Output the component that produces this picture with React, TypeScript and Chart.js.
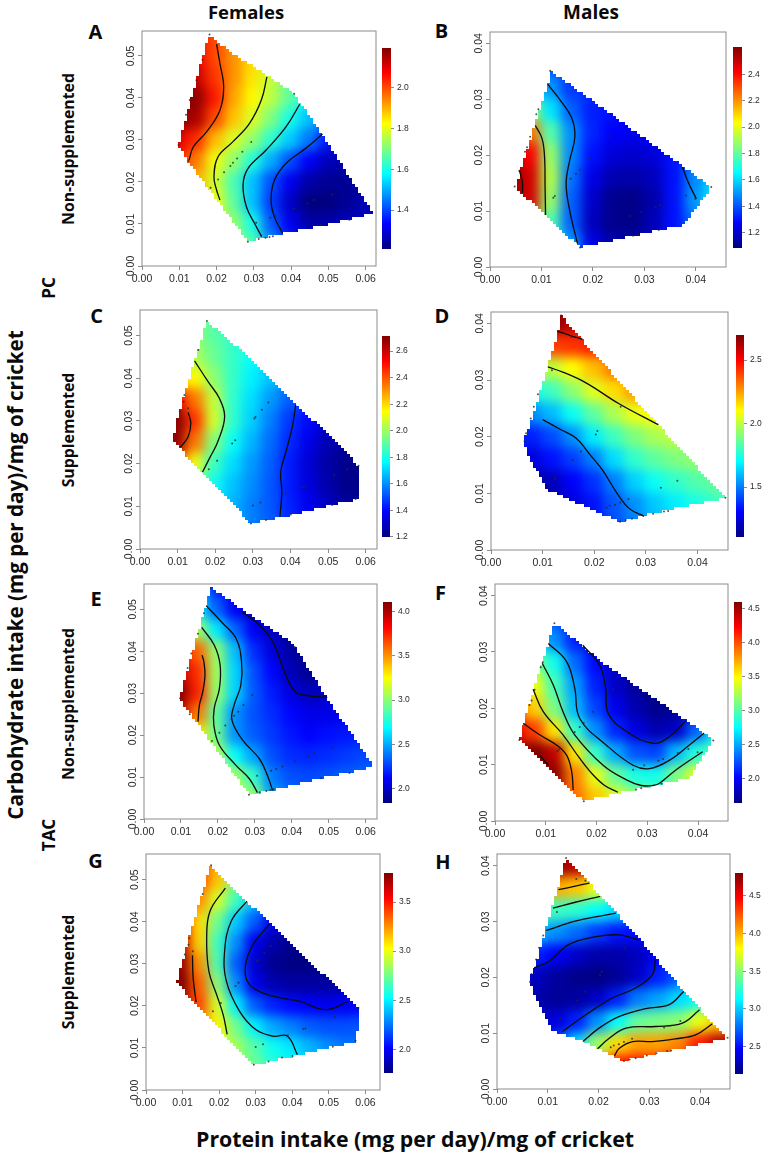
import React, { useEffect, useRef } from "react";
import { Chart, registerables } from "chart.js";

Chart.register(...registerables);

const _ = null;

// Axis ticks
const femaleTicksX = [0, 0.01, 0.02, 0.03, 0.04, 0.05, 0.06];
const femaleTicksY = [0, 0.01, 0.02, 0.03, 0.04, 0.05];
const maleTicksX = [0, 0.01, 0.02, 0.03, 0.04];
const maleTicksY = [0, 0.01, 0.02, 0.03, 0.04];

// Surface sampling positions
const femaleGridX = [0.005, 0.01, 0.015, 0.02, 0.025, 0.03, 0.035, 0.04, 0.045, 0.05, 0.055, 0.06, 0.065];
const femaleGridY = [0.055, 0.05, 0.045, 0.04, 0.035, 0.03, 0.025, 0.02, 0.015, 0.01, 0.005];
const maleGridX = [0.004, 0.008, 0.012, 0.016, 0.02, 0.024, 0.028, 0.032, 0.036, 0.04, 0.044, 0.048];
const maleGridY = [0.044, 0.04, 0.036, 0.032, 0.028, 0.024, 0.02, 0.016, 0.012, 0.008, 0.004];

const panelA_values = [
  [_, _, 2.06, 2.0, 1.95, _, _, _, _, _, _, _, _],
  [_, _, 2.08, 2.0, 1.93, 1.86, _, _, _, _, _, _, _],
  [_, 2.14, 2.12, 2.02, 1.93, 1.85, 1.77, 1.68, _, _, _, _, _],
  [_, 2.19, 2.18, 2.05, 1.91, 1.83, 1.76, 1.67, 1.58, _, _, _, _],
  [_, 2.19, 2.15, 2.0, 1.88, 1.79, 1.7, 1.6, 1.52, 1.44, _, _, _],
  [2.12, 2.1, 2.03, 1.89, 1.79, 1.72, 1.62, 1.53, 1.45, 1.36, 1.32, _, _],
  [_, 2.05, 1.95, 1.81, 1.72, 1.61, 1.5, 1.41, 1.33, 1.27, 1.25, 1.25, _],
  [_, 1.98, 1.9, 1.78, 1.65, 1.52, 1.41, 1.32, 1.25, 1.23, 1.23, 1.24, _],
  [_, _, 1.92, 1.81, 1.67, 1.52, 1.39, 1.28, 1.21, 1.21, 1.23, 1.26, 1.27],
  [_, _, _, 1.85, 1.72, 1.6, 1.42, 1.32, 1.25, 1.25, 1.27, 1.28, 1.29],
  [_, _, _, _, 1.75, 1.66, 1.48, 1.38, 1.33, 1.32, _, _, _],
];
const panelC_values = [
  [_, _, 1.95, 1.9, 1.85, _, _, _, _, _, _, _, _],
  [_, _, 1.98, 1.9, 1.85, 1.8, _, _, _, _, _, _, _],
  [_, 2.0, 2.02, 1.93, 1.85, 1.78, 1.72, _, _, _, _, _, _],
  [_, 2.2, 2.15, 1.98, 1.85, 1.75, 1.68, 1.6, 1.52, _, _, _, _],
  [_, 2.55, 2.35, 2.06, 1.84, 1.72, 1.62, 1.53, 1.45, 1.38, _, _, _],
  [2.71, 2.71, 2.45, 2.08, 1.84, 1.7, 1.58, 1.47, 1.4, 1.33, 1.3, _, _],
  [2.71, 2.68, 2.35, 1.97, 1.78, 1.66, 1.55, 1.45, 1.36, 1.28, 1.25, 1.22, _],
  [_, 2.45, 2.12, 1.86, 1.72, 1.62, 1.53, 1.43, 1.33, 1.26, 1.22, 1.21, _],
  [_, _, 1.95, 1.79, 1.68, 1.6, 1.52, 1.43, 1.34, 1.27, 1.22, 1.21, _],
  [_, _, _, 1.75, 1.66, 1.58, 1.52, 1.44, 1.37, 1.3, 1.25, 1.23, _],
  [_, _, _, _, 1.66, 1.58, 1.53, 1.46, 1.4, 1.34, _, _, _],
];
const panelE_values = [
  [_, _, 2.6, 2.2, 2.1, 2.0, _, _, _, _, _, _, _],
  [_, _, 2.65, 2.35, 2.1, 1.98, 1.92, _, _, _, _, _, _],
  [_, 3.1, 3.05, 2.65, 2.35, 2.1, 1.98, 1.88, _, _, _, _, _],
  [_, 3.8, 3.6, 3.02, 2.55, 2.22, 2.05, 1.92, 1.85, _, _, _, _],
  [_, 3.95, 3.72, 3.05, 2.6, 2.3, 2.13, 1.97, 1.88, 1.86, _, _, _],
  [4.1, 4.1, 3.75, 3.03, 2.6, 2.32, 2.18, 2.05, 1.98, 1.98, 1.98, _, _],
  [_, 3.95, 3.55, 2.9, 2.45, 2.3, 2.22, 2.13, 2.07, 2.07, 2.09, 2.1, _],
  [_, 3.6, 3.3, 2.93, 2.45, 2.33, 2.25, 2.17, 2.12, 2.15, 2.17, 2.18, _],
  [_, _, 3.3, 3.1, 2.7, 2.48, 2.3, 2.22, 2.2, 2.22, 2.25, 2.28, 2.3],
  [_, _, _, 3.2, 3.05, 2.8, 2.4, 2.3, 2.28, 2.3, 2.33, 2.35, 2.35],
  [_, _, _, _, 3.2, 3.02, 2.5, 2.38, 2.35, 2.37, _, _, _],
];
const panelG_values = [
  [_, _, 3.4, 3.25, 3.0, _, _, _, _, _, _, _, _],
  [_, _, 3.4, 3.15, 2.8, 2.6, _, _, _, _, _, _, _],
  [_, 3.4, 3.25, 2.95, 2.65, 2.4, 2.2, _, _, _, _, _, _],
  [_, 3.55, 3.1, 2.75, 2.42, 2.2, 1.98, 1.9, _, _, _, _, _],
  [_, 3.65, 3.12, 2.65, 2.3, 1.98, 1.85, 1.79, 1.77, _, _, _, _],
  [3.8, 3.75, 3.25, 2.68, 2.2, 1.92, 1.8, 1.77, 1.77, 1.78, 1.8, _, _],
  [3.8, 3.8, 3.35, 2.8, 2.3, 1.98, 1.86, 1.83, 1.83, 1.83, 1.85, 1.88, _],
  [_, 3.65, 3.4, 2.95, 2.5, 2.2, 2.08, 2.03, 2.0, 1.98, 2.0, 2.02, _],
  [_, _, 3.25, 3.05, 2.75, 2.5, 2.35, 2.27, 2.2, 2.17, 2.17, 2.18, _],
  [_, _, _, 3.0, 2.85, 2.7, 2.55, 2.48, 2.38, 2.3, 2.25, 2.25, _],
  [_, _, _, _, 2.85, 2.75, 2.62, 2.55, 2.45, 2.38, _, _, _],
];
const panelB_values = [
  [_, _, _, _, _, _, _, _, _, _, _, _],
  [_, _, _, _, _, _, _, _, _, _, _, _],
  [_, _, 1.4, 1.35, _, _, _, _, _, _, _, _],
  [_, 1.6, 1.5, 1.36, 1.33, 1.3, _, _, _, _, _, _],
  [_, 1.9, 1.62, 1.42, 1.32, 1.3, 1.28, _, _, _, _, _],
  [_, 2.25, 1.78, 1.49, 1.33, 1.27, 1.25, 1.27, _, _, _, _],
  [2.55, 2.42, 1.88, 1.48, 1.3, 1.22, 1.2, 1.22, 1.3, 1.4, _, _],
  [2.62, 2.48, 1.92, 1.45, 1.24, 1.16, 1.15, 1.18, 1.3, 1.48, 1.6, _],
  [2.62, 2.48, 1.88, 1.42, 1.2, 1.11, 1.1, 1.15, 1.3, 1.5, 1.65, _],
  [_, 2.25, 1.78, 1.42, 1.18, 1.11, 1.1, 1.17, 1.3, 1.45, 1.6, _],
  [_, _, 1.7, 1.5, 1.24, 1.15, 1.15, 1.2, 1.3, 1.4, _, _],
];
const panelD_values = [
  [_, _, 2.7, 2.7, _, _, _, _, _, _, _, _],
  [_, _, 2.68, 2.6, _, _, _, _, _, _, _, _],
  [_, _, 2.4, 2.42, 2.45, _, _, _, _, _, _, _],
  [_, 2.0, 2.0, 2.1, 2.2, 2.3, _, _, _, _, _, _],
  [_, 1.72, 1.8, 1.92, 2.05, 2.15, 2.25, _, _, _, _, _],
  [_, 1.52, 1.6, 1.72, 1.85, 1.97, 2.07, 2.1, _, _, _, _],
  [1.35, 1.35, 1.42, 1.53, 1.68, 1.8, 1.9, 1.97, 2.0, _, _, _],
  [1.25, 1.25, 1.33, 1.4, 1.5, 1.65, 1.78, 1.85, 1.9, 1.93, _, _],
  [_, 1.15, 1.2, 1.3, 1.38, 1.5, 1.63, 1.72, 1.78, 1.83, 1.86, _],
  [_, 1.12, 1.16, 1.25, 1.33, 1.44, 1.53, 1.62, 1.68, 1.74, 1.8, 1.82],
  [_, _, 1.16, 1.25, 1.33, 1.42, 1.5, 1.58, 1.64, _, _, _],
];
const panelF_values = [
  [_, _, _, _, _, _, _, _, _, _, _, _],
  [_, _, _, _, _, _, _, _, _, _, _, _],
  [_, _, 2.25, 2.05, _, _, _, _, _, _, _, _],
  [_, 2.7, 2.42, 2.1, 1.9, 1.8, _, _, _, _, _, _],
  [_, 3.15, 2.8, 2.32, 2.03, 1.85, 1.72, _, _, _, _, _],
  [_, 3.45, 2.95, 2.47, 2.1, 1.85, 1.72, 1.65, _, _, _, _],
  [4.0, 3.62, 3.1, 2.55, 2.2, 1.95, 1.78, 1.68, 1.7, 1.8, _, _],
  [4.3, 4.05, 3.55, 2.9, 2.42, 2.12, 1.92, 1.78, 1.85, 2.3, 2.7, _],
  [4.5, 4.59, 4.4, 3.55, 2.9, 2.5, 2.25, 2.2, 2.55, 2.85, 3.0, _],
  [_, 4.6, 4.55, 3.85, 3.42, 3.05, 2.82, 2.8, 3.1, 3.4, 3.5, _],
  [_, _, 4.3, 3.9, 3.65, 3.4, 3.2, 3.05, 3.2, 3.4, _, _],
];
const panelH_values = [
  [_, _, 4.8, 4.8, _, _, _, _, _, _, _, _],
  [_, _, 4.75, 4.65, _, _, _, _, _, _, _, _],
  [_, _, 4.02, 3.95, 3.75, _, _, _, _, _, _, _],
  [_, 3.3, 3.3, 3.25, 3.15, 3.05, _, _, _, _, _, _],
  [_, 2.95, 2.85, 2.75, 2.62, 2.52, 2.5, _, _, _, _, _],
  [2.5, 2.55, 2.45, 2.33, 2.25, 2.25, 2.3, 2.45, 2.6, _, _, _],
  [2.4, 2.3, 2.22, 2.17, 2.15, 2.2, 2.32, 2.55, 2.7, 2.85, _, _],
  [2.32, 2.25, 2.2, 2.22, 2.32, 2.55, 2.8, 2.9, 3.05, 3.15, 3.3, _],
  [_, 2.3, 2.38, 2.55, 2.85, 3.15, 3.4, 3.45, 3.5, 3.75, 3.95, _],
  [_, _, 2.65, 3.05, 3.55, 3.9, 4.05, 4.05, 4.12, 4.4, 4.65, 4.75],
  [_, _, _, 3.5, 4.05, 4.45, 4.45, 4.45, 4.5, 4.6, 4.7, _],
];

// Outlines of the fitted regions
const panelA_hullX = [0.0179, 0.0262, 0.0315, 0.0408, 0.0484, 0.0621, 0.0475, 0.0315, 0.0284, 0.0124, 0.0098];
const panelA_hullY = [0.0549, 0.0494, 0.0466, 0.041, 0.0311, 0.0125, 0.0094, 0.0066, 0.0058, 0.0248, 0.0288];
const panelB_hullX = [0.0117, 0.0233, 0.0372, 0.043, 0.0401, 0.0375, 0.0175, 0.0052, 0.0059, 0.0114];
const panelB_hullY = [0.0351, 0.0275, 0.0182, 0.0143, 0.0104, 0.0075, 0.0035, 0.014, 0.0173, 0.0331];
const panelC_hullX = [0.0178, 0.0282, 0.0414, 0.0511, 0.0581, 0.0579, 0.0405, 0.0295, 0.0088, 0.0093, 0.0115, 0.0154];
const panelC_hullY = [0.0534, 0.0455, 0.0341, 0.0259, 0.0195, 0.0117, 0.008, 0.006, 0.0252, 0.0283, 0.0353, 0.0466];
const panelD_hullX = [0.0136, 0.0177, 0.0325, 0.0454, 0.0313, 0.0274, 0.0248, 0.011, 0.0075, 0.0063, 0.0081, 0.011, 0.0129];
const panelD_hullY = [0.0414, 0.037, 0.022, 0.0092, 0.0065, 0.0055, 0.005, 0.0106, 0.0162, 0.0194, 0.0235, 0.0323, 0.0382];
const panelE_hullX = [0.0181, 0.0276, 0.0402, 0.0491, 0.0622, 0.0473, 0.0348, 0.0285, 0.0096, 0.0168];
const panelE_hullY = [0.0552, 0.0494, 0.0419, 0.0295, 0.0124, 0.0096, 0.0068, 0.0058, 0.0287, 0.051];
const panelF_hullX = [0.0117, 0.0219, 0.0376, 0.043, 0.0383, 0.0173, 0.0048, 0.0069, 0.0105];
const panelF_hullY = [0.0351, 0.0277, 0.0179, 0.0144, 0.0076, 0.0036, 0.0144, 0.0212, 0.0315];
const panelG_hullX = [0.0177, 0.0224, 0.0338, 0.0491, 0.0582, 0.0577, 0.0401, 0.0292, 0.0084, 0.0116];
const panelG_hullY = [0.0536, 0.0492, 0.0397, 0.027, 0.0195, 0.0116, 0.008, 0.0059, 0.0254, 0.0357];
const panelH_hullX = [0.0136, 0.0182, 0.028, 0.0368, 0.0453, 0.0247, 0.0169, 0.011, 0.0074, 0.0063, 0.0074, 0.01, 0.012];
const panelH_hullY = [0.0414, 0.0369, 0.027, 0.0175, 0.0091, 0.005, 0.0085, 0.0103, 0.0169, 0.0193, 0.0217, 0.03, 0.036];

// Contour lines
const panelA_contourX = [
  [0.02, 0.0209, 0.0219, 0.0209, 0.0173, 0.0138, 0.0126],
  [0.0335, 0.032, 0.0288, 0.0244, 0.0204, 0.0193, 0.02, 0.0209],
  [0.0423, 0.0386, 0.0333, 0.0284, 0.0271, 0.028, 0.0302, 0.0321],
  [0.0484, 0.0439, 0.0386, 0.0355, 0.0346, 0.0355, 0.0377],
];
const panelA_contourY = [
  [0.0528, 0.0482, 0.0426, 0.0371, 0.0319, 0.0284, 0.0252],
  [0.045, 0.0395, 0.0339, 0.0296, 0.026, 0.0212, 0.0181, 0.0157],
  [0.0385, 0.0331, 0.0276, 0.0232, 0.0193, 0.0141, 0.0101, 0.007],
  [0.0314, 0.028, 0.0244, 0.0204, 0.0157, 0.0117, 0.0078],
];
const panelB_contourX = [
  [0.0057, 0.0063, 0.0063],
  [0.0088, 0.0101, 0.0106, 0.0107, 0.0108],
  [0.0112, 0.0136, 0.0159, 0.0165, 0.0155, 0.0148, 0.0155, 0.017],
  [0.0374, 0.0385, 0.0401],
];
const panelB_contourY = [
  [0.0173, 0.0152, 0.0133],
  [0.0253, 0.023, 0.0197, 0.0143, 0.0093],
  [0.0327, 0.0299, 0.0266, 0.0233, 0.0191, 0.0149, 0.0101, 0.0042],
  [0.0179, 0.0152, 0.0122],
];
const panelC_contourX = [
  [0.0128, 0.0135, 0.0128, 0.0107],
  [0.0145, 0.0181, 0.0211, 0.0225, 0.0207, 0.0185, 0.0166],
  [0.0414, 0.0405, 0.0388, 0.0374, 0.0377, 0.0372],
];
const panelC_contourY = [
  [0.032, 0.0295, 0.0263, 0.0238],
  [0.0441, 0.0392, 0.0353, 0.031, 0.0252, 0.0213, 0.018],
  [0.0338, 0.0287, 0.0228, 0.0181, 0.0134, 0.0076],
];
const panelD_contourX = [
  [0.0129, 0.0155, 0.0177],
  [0.011, 0.0139, 0.0184, 0.0248, 0.0324],
  [0.01, 0.0132, 0.0165, 0.019, 0.0216, 0.0242, 0.0268, 0.0296],
];
const panelD_contourY = [
  [0.0386, 0.0378, 0.0372],
  [0.0323, 0.0314, 0.0295, 0.0258, 0.0221],
  [0.023, 0.0214, 0.0197, 0.017, 0.0141, 0.0103, 0.0073, 0.006],
];
const panelE_contourX = [
  [0.0157, 0.0162, 0.0165, 0.0159, 0.015, 0.0146],
  [0.0156, 0.019, 0.0206, 0.0204, 0.019, 0.0189, 0.0204, 0.0249, 0.0285, 0.0307],
  [0.0168, 0.0213, 0.0249, 0.0264, 0.0262, 0.0244, 0.0238, 0.0267, 0.0312, 0.0334, 0.0348],
  [0.0267, 0.0312, 0.0348, 0.0384, 0.041, 0.0446, 0.0496],
];
const panelE_contourY = [
  [0.0391, 0.0375, 0.0343, 0.0303, 0.0272, 0.0232],
  [0.0457, 0.0415, 0.0367, 0.0311, 0.0264, 0.0224, 0.0176, 0.0128, 0.0096, 0.0063],
  [0.0509, 0.0467, 0.0431, 0.0375, 0.0319, 0.0272, 0.0236, 0.0188, 0.0144, 0.0104, 0.0068],
  [0.0493, 0.0463, 0.0423, 0.0343, 0.0303, 0.0294, 0.029],
];
const panelF_contourX = [
  [0.0088, 0.0105],
  [0.0056, 0.0088, 0.0121, 0.0141, 0.0151, 0.0154],
  [0.0075, 0.0095, 0.0134, 0.0167, 0.0193, 0.0216, 0.0242],
  [0.0093, 0.0115, 0.0134, 0.0157, 0.0213, 0.0259, 0.0288, 0.0311, 0.0324, 0.0357, 0.0409],
  [0.0105, 0.0141, 0.0157, 0.0167, 0.0219, 0.0272, 0.0304, 0.0344, 0.0383, 0.0412],
  [0.0173, 0.0206, 0.0218, 0.0223, 0.0259, 0.0311, 0.0344, 0.0376],
];
const panelF_contourY = [
  [0.0117, 0.0099],
  [0.0173, 0.0153, 0.0135, 0.0117, 0.0088, 0.0055],
  [0.0234, 0.0194, 0.0153, 0.0111, 0.0082, 0.0063, 0.0051],
  [0.028, 0.0241, 0.0194, 0.0153, 0.0099, 0.0073, 0.0063, 0.0063, 0.0067, 0.0091, 0.0123],
  [0.0315, 0.0283, 0.0236, 0.0182, 0.0135, 0.0099, 0.0093, 0.0108, 0.0135, 0.0156],
  [0.0312, 0.0277, 0.0236, 0.0191, 0.0159, 0.0138, 0.015, 0.0178],
];
const panelG_contourX = [
  [0.0127, 0.0129, 0.0137],
  [0.0217, 0.0175, 0.0166, 0.0172, 0.0193, 0.0211, 0.0222],
  [0.0276, 0.0233, 0.0215, 0.022, 0.0256, 0.0301, 0.0347, 0.0387, 0.0414],
  [0.0338, 0.0288, 0.0271, 0.0288, 0.0347, 0.0419, 0.0491, 0.0555],
];
const panelG_contourY = [
  [0.032, 0.0266, 0.0209],
  [0.048, 0.0425, 0.0361, 0.0282, 0.0227, 0.0179, 0.0132],
  [0.0449, 0.0401, 0.033, 0.0258, 0.0187, 0.0143, 0.0128, 0.0128, 0.0084],
  [0.0395, 0.0338, 0.0282, 0.0246, 0.0223, 0.0211, 0.0191, 0.0211],
];
const panelH_contourX = [
  [0.0121, 0.0152, 0.0182],
  [0.011, 0.0156, 0.0203],
  [0.0097, 0.0156, 0.0234],
  [0.0073, 0.0103, 0.0142, 0.0195, 0.0241, 0.028],
  [0.0312, 0.0306, 0.0273, 0.0227, 0.0175, 0.0129],
  [0.0368, 0.0339, 0.0293, 0.0241, 0.0201, 0.0169],
  [0.0399, 0.0365, 0.0312, 0.0254, 0.0221, 0.0198],
  [0.0424, 0.0391, 0.0352, 0.0306, 0.0267, 0.0241, 0.0231],
];
const panelH_contourY = [
  [0.0357, 0.0363, 0.0369],
  [0.0324, 0.0335, 0.0345],
  [0.0284, 0.0301, 0.0315],
  [0.0217, 0.0229, 0.0259, 0.0273, 0.0276, 0.0267],
  [0.0232, 0.0205, 0.0181, 0.0163, 0.0133, 0.0103],
  [0.0175, 0.0151, 0.0144, 0.013, 0.0109, 0.0085],
  [0.0142, 0.0118, 0.0112, 0.0109, 0.0091, 0.0072],
  [0.0117, 0.0097, 0.009, 0.0085, 0.0085, 0.0073, 0.0059],
];

// Observed diets (tiny dots)
const femaleControlDotsX = [0.0181, 0.0162, 0.0146, 0.0128, 0.0118, 0.0098, 0.0124, 0.0184, 0.0204, 0.022, 0.0237, 0.0244, 0.0255, 0.0269, 0.0293, 0.0408, 0.0461, 0.0444, 0.0408, 0.0375, 0.0358, 0.0344, 0.0306, 0.0284, 0.0313, 0.0331, 0.0342, 0.0351, 0.0479, 0.0556, 0.051];
const femaleControlDotsY = [0.0551, 0.0491, 0.0442, 0.0395, 0.036, 0.0288, 0.025, 0.0186, 0.0206, 0.0223, 0.0238, 0.0246, 0.0256, 0.0272, 0.0295, 0.041, 0.0157, 0.0149, 0.0137, 0.0125, 0.0119, 0.0115, 0.0103, 0.0058, 0.0064, 0.0067, 0.0069, 0.0071, 0.0097, 0.011, 0.017];
const femaleSuppDotsX = [0.0178, 0.0155, 0.0118, 0.0116, 0.0106, 0.0128, 0.0304, 0.0307, 0.0324, 0.0341, 0.0253, 0.0245, 0.0205, 0.0183, 0.0388, 0.0436, 0.043, 0.0516, 0.0551, 0.0581, 0.0573, 0.0511, 0.0401, 0.0372, 0.0335, 0.0295, 0.032, 0.03];
const femaleSuppDotsY = [0.0534, 0.0466, 0.0361, 0.0345, 0.0322, 0.033, 0.0306, 0.0309, 0.0326, 0.0343, 0.0255, 0.0247, 0.0207, 0.0187, 0.013, 0.0146, 0.0145, 0.0173, 0.0187, 0.0195, 0.0117, 0.0103, 0.0081, 0.0077, 0.0068, 0.006, 0.0109, 0.0102];
const maleControlDotsX = [0.0117, 0.0094, 0.009, 0.0078, 0.0072, 0.0068, 0.0057, 0.0048, 0.0123, 0.0126, 0.0157, 0.0167, 0.0175, 0.0193, 0.0233, 0.043, 0.0399, 0.0381, 0.036, 0.0331, 0.0322, 0.0294, 0.0272, 0.0278, 0.0288, 0.0328, 0.0175];
const maleControlDotsY = [0.0351, 0.0282, 0.0273, 0.0233, 0.0214, 0.0206, 0.0172, 0.0144, 0.0124, 0.0127, 0.0158, 0.0167, 0.0174, 0.0194, 0.0234, 0.0143, 0.0122, 0.0128, 0.0121, 0.011, 0.0107, 0.0099, 0.0091, 0.0056, 0.0058, 0.0066, 0.0035];
const maleSuppDotsX = [0.0136, 0.0156, 0.0174, 0.0118, 0.0091, 0.0083, 0.0077, 0.0068, 0.0065, 0.0251, 0.0206, 0.0203, 0.0174, 0.0158, 0.0124, 0.0266, 0.025, 0.024, 0.023, 0.0224, 0.025, 0.0261, 0.0273, 0.0295, 0.0314, 0.0335, 0.0343, 0.0329, 0.0361, 0.0454];
const maleSuppDotsY = [0.0414, 0.0376, 0.0373, 0.0317, 0.0275, 0.0253, 0.0232, 0.0206, 0.0192, 0.0253, 0.021, 0.0204, 0.0174, 0.0159, 0.0126, 0.009, 0.0084, 0.008, 0.0078, 0.0075, 0.005, 0.0053, 0.0055, 0.006, 0.0064, 0.0068, 0.0069, 0.011, 0.0122, 0.0092];

// Colour bars: range and ticks
const rangeA = [1.21, 2.194];
const rangeB = [1.086, 2.605];
const rangeC = [1.2, 2.713];
const rangeD = [1.108, 2.696];
const rangeE = [1.838, 4.107];
const rangeF = [1.64, 4.59];
const rangeG = [1.76, 3.795];
const rangeH = [2.136, 4.803];
const barTicksA = [1.4, 1.6, 1.8, 2.0];
const barTicksB = [1.2, 1.4, 1.6, 1.8, 2.0, 2.2, 2.4];
const barTicksC = [1.2, 1.4, 1.6, 1.8, 2.0, 2.2, 2.4, 2.6];
const barTicksD = [1.5, 2.0, 2.5];
const barTicksE = [2.0, 2.5, 3.0, 3.5, 4.0];
const barTicksF = [2.0, 2.5, 3.0, 3.5, 4.0, 4.5];
const barTicksG = [2.0, 2.5, 3.0, 3.5];
const barTicksH = [2.5, 3.0, 3.5, 4.0, 4.5];

const JET = ["#00007F", "#0000FF", "#007FFF", "#00FFFF", "#7FFF7F", "#FFFF00", "#FF7F00", "#FF0000", "#7F0000"];
const hex = (s: string) => [1, 3, 5].map((i) => parseInt(s.slice(i, i + 2), 16));
function jetColor(t: number) {
  const c = Math.max(0, Math.min(1, t)) * (JET.length - 1);
  const i = Math.min(JET.length - 2, Math.floor(c));
  const a = hex(JET[i]);
  const b = hex(JET[i + 1]);
  const f = c - i;
  return `rgb(${a.map((v, k) => Math.round(v + (b[k] - v) * f)).join(",")})`;
}

type Panel = {
  frame: number[]; // left, top, right, bottom px
  bar: number[];
  xMax: number; yMax: number;
  female: boolean;
  values: (number | null)[][];
  hullX: number[]; hullY: number[];
  contourX: number[][]; contourY: number[][];
  dotsX: number[]; dotsY: number[];
  range: number[]; barTicks: number[];
};

const panels: Panel[] = [
  { frame: [142, 31, 377, 266], bar: [382, 46, 391, 251], xMax: 0.06275, yMax: 0.05594, female: true, values: panelA_values, hullX: panelA_hullX, hullY: panelA_hullY, contourX: panelA_contourX, contourY: panelA_contourY, dotsX: femaleControlDotsX, dotsY: femaleControlDotsY, range: rangeA, barTicks: barTicksA },
  { frame: [490, 32, 727, 267], bar: [733, 45, 742, 250], xMax: 0.04587, yMax: 0.04203, female: false, values: panelB_values, hullX: panelB_hullX, hullY: panelB_hullY, contourX: panelB_contourX, contourY: panelB_contourY, dotsX: maleControlDotsX, dotsY: maleControlDotsY, range: rangeB, barTicks: barTicksB },
  { frame: [140, 310, 378, 549], bar: [382, 334, 390, 539], xMax: 0.063, yMax: 0.056, female: true, values: panelC_values, hullX: panelC_hullX, hullY: panelC_hullY, contourX: panelC_contourX, contourY: panelC_contourY, dotsX: femaleSuppDotsX, dotsY: femaleSuppDotsY, range: rangeC, barTicks: barTicksC },
  { frame: [491, 312, 729, 550], bar: [736, 333, 744, 539], xMax: 0.0459, yMax: 0.042, female: false, values: panelD_values, hullX: panelD_hullX, hullY: panelD_hullY, contourX: panelD_contourX, contourY: panelD_contourY, dotsX: maleSuppDotsX, dotsY: maleSuppDotsY, range: rangeD, barTicks: barTicksD },
  { frame: [144, 584, 378, 819], bar: [383, 600, 392, 805], xMax: 0.06305, yMax: 0.05605, female: true, values: panelE_values, hullX: panelE_hullX, hullY: panelE_hullY, contourX: panelE_contourX, contourY: panelE_contourY, dotsX: femaleControlDotsX, dotsY: femaleControlDotsY, range: rangeE, barTicks: barTicksE },
  { frame: [495, 584, 729, 821], bar: [734, 600, 742, 805], xMax: 0.0459, yMax: 0.04207, female: false, values: panelF_values, hullX: panelF_hullX, hullY: panelF_hullY, contourX: panelF_contourX, contourY: panelF_contourY, dotsX: maleControlDotsX, dotsY: maleControlDotsY, range: rangeF, barTicks: barTicksF },
  { frame: [146, 854, 381, 1090], bar: [384, 871, 393, 1075], xMax: 0.064, yMax: 0.0561, female: true, values: panelG_values, hullX: panelG_hullX, hullY: panelG_hullY, contourX: panelG_contourX, contourY: panelG_contourY, dotsX: femaleSuppDotsX, dotsY: femaleSuppDotsY, range: rangeG, barTicks: barTicksG },
  { frame: [497, 854, 731, 1089], bar: [735, 871, 743, 1076], xMax: 0.04588, yMax: 0.0421, female: false, values: panelH_values, hullX: panelH_hullX, hullY: panelH_hullY, contourX: panelH_contourX, contourY: panelH_contourY, dotsX: maleSuppDotsX, dotsY: maleSuppDotsY, range: rangeH, barTicks: barTicksH },
];

const TICK_FONT = { family: "'Liberation Sans', Arial, sans-serif", size: 10.5 };
const LEFT = 30, BELOW = 27, TOPGAP = 5, RIGHTGAP = 3;
const GRAY = "#8c8c8c";

function surfacePlugin(p: Panel) {
  return {
    id: "surface",
    afterDatasetDraw(chart: any, args: any) {
      if (args.index !== 0) return;
      const { ctx, canvas, chartArea: a, scales } = chart;
      const off = document.createElement("canvas");
      off.width = canvas.width;
      off.height = canvas.height;
      off.getContext("2d")!.drawImage(canvas, a.left, a.top, a.width, a.height, a.left, a.top, a.width, a.height);
      const pts = p.hullX.map((x, i) => [scales.x.getPixelForValue(x), scales.y.getPixelForValue(p.hullY[i])]);
      ctx.save();
      ctx.clearRect(a.left, a.top, a.width, a.height);
      ctx.beginPath();
      const step = 3;
      for (let yp = Math.floor(a.top); yp < a.bottom; yp += step) {
        const mid = yp + step / 2;
        let lo = Infinity, hi = -Infinity;
        pts.forEach((q, i) => {
          const r = pts[(i + 1) % pts.length];
          if ((q[1] <= mid && r[1] > mid) || (r[1] <= mid && q[1] > mid)) {
            const xp = q[0] + ((mid - q[1]) / (r[1] - q[1])) * (r[0] - q[0]);
            lo = Math.min(lo, xp);
            hi = Math.max(hi, xp);
          }
        });
        if (hi > lo) {
          const x0 = Math.round(lo / step) * step;
          const x1 = Math.round(hi / step) * step;
          ctx.rect(x0, yp, x1 - x0, step);
        }
      }
      ctx.clip();
      ctx.drawImage(off, 0, 0);
      ctx.filter = "blur(6px)";
      ctx.drawImage(off, 0, 0);
      ctx.restore();
    },
    afterDraw(chart: any) {
      const { ctx, chartArea: a } = chart;
      ctx.save();
      ctx.strokeStyle = GRAY;
      ctx.lineWidth = 1;
      ctx.strokeRect(a.left, a.top, a.width, a.height);
      ctx.restore();
    },
  };
}

function buildPanel(canvas: HTMLCanvasElement, p: Panel) {
  const gridX = p.female ? femaleGridX : maleGridX;
  const gridY = p.female ? femaleGridY : maleGridY;
  const ticksX = p.female ? femaleTicksX : maleTicksX;
  const ticksY = p.female ? femaleTicksY : maleTicksY;
  const cells: any[] = [];
  p.values.forEach((row, r) =>
    row.forEach((v, c) => {
      if (v !== null) cells.push({ x: gridX[c], y: gridY[r], v });
    })
  );
  const [lo, hi] = p.range;
  const cellRadius = (ctx: any) => {
    const sx = ctx.chart.scales.x;
    const sy = ctx.chart.scales.y;
    const w = Math.abs(sx.getPixelForValue(gridX[1]) - sx.getPixelForValue(gridX[0]));
    const h = Math.abs(sy.getPixelForValue(gridY[1]) - sy.getPixelForValue(gridY[0]));
    return (Math.max(w, h) / 2 + 0.5) / Math.SQRT1_2;
  };
  const datasets: any[] = [
    {
      data: cells,
      order: 9,
      pointStyle: "rect",
      pointRadius: cellRadius,
      pointBorderWidth: 0,
      pointBackgroundColor: (ctx: any) => jetColor((ctx.raw.v - lo) / (hi - lo)),
    },
    {
      data: p.dotsX.map((x, i) => ({ x, y: p.dotsY[i] })),
      order: 1,
      pointStyle: "circle",
      pointRadius: 1,
      pointBorderWidth: 0,
      pointBackgroundColor: "rgba(40,40,40,0.8)",
    },
    ...p.contourX.map((xs, k) => ({
      data: xs.map((x, i) => ({ x, y: p.contourY[k][i] })),
      order: 2,
      showLine: true,
      tension: 0.4,
      pointRadius: 0,
      borderColor: "#0c0c0c",
      borderWidth: 1.3,
    })),
  ];
  return new Chart(canvas, {
    type: "scatter",
    data: { datasets },
    plugins: [surfacePlugin(p)],
    options: {
      animation: false,
      responsive: false,
      devicePixelRatio: 1,
      events: [],
      layout: { padding: { top: TOPGAP, right: RIGHTGAP, left: 0, bottom: 0 } },
      plugins: { legend: { display: false }, tooltip: { enabled: false }, title: { display: false } },
      scales: {
        x: {
          type: "linear",
          min: 0,
          max: p.xMax,
          afterBuildTicks: (s: any) => { s.ticks = ticksX.map((value) => ({ value })); },
          afterFit: (s: any) => { s.height = BELOW; },
          grid: { drawOnChartArea: false, drawTicks: true, tickLength: 4, color: GRAY },
          border: { display: false },
          ticks: { autoSkip: false, minRotation: 0, maxRotation: 0, padding: 3, color: "#2a2a2a", font: TICK_FONT, callback: (v: any) => Number(v).toFixed(2) },
        },
        y: {
          type: "linear",
          min: 0,
          max: p.yMax,
          afterBuildTicks: (s: any) => { s.ticks = ticksY.map((value) => ({ value })); },
          afterFit: (s: any) => { s.width = LEFT; },
          grid: { drawOnChartArea: false, drawTicks: true, tickLength: 4, color: GRAY },
          border: { display: false },
          ticks: { autoSkip: false, minRotation: 90, maxRotation: 90, crossAlign: "center", padding: -3, color: "#2a2a2a", font: TICK_FONT, callback: (v: any) => Number(v).toFixed(2) },
        },
      },
    } as any,
  });
}

function buildBar(canvas: HTMLCanvasElement, p: Panel) {
  return new Chart(canvas, {
    type: "bar",
    data: {
      labels: ["scale"],
      datasets: [
        {
          data: [p.range] as any,
          barPercentage: 1,
          categoryPercentage: 1,
          borderWidth: 0,
          backgroundColor: (ctx: any) => {
            const a = ctx.chart.chartArea;
            if (!a) return "#888";
            const g = ctx.chart.ctx.createLinearGradient(0, a.bottom, 0, a.top);
            JET.forEach((c, i) => g.addColorStop(i / (JET.length - 1), c));
            return g;
          },
        },
      ],
    },
    options: {
      animation: false,
      responsive: false,
      devicePixelRatio: 1,
      events: [],
      layout: { padding: { top: 6, bottom: 6, left: 0, right: 0 } },
      plugins: { legend: { display: false }, tooltip: { enabled: false } },
      scales: {
        x: { display: false },
        y: {
          position: "right",
          min: p.range[0],
          max: p.range[1],
          afterBuildTicks: (s: any) => { s.ticks = p.barTicks.map((value) => ({ value })); },
          afterFit: (s: any) => { s.width = 26; },
          grid: { drawOnChartArea: false, drawTicks: true, tickLength: 3, color: GRAY },
          border: { display: false },
          ticks: { autoSkip: false, padding: 3, color: "#2a2a2a", font: { family: "'Liberation Sans', Arial, sans-serif", size: 8.5 }, callback: (v: any) => Number(v).toFixed(1) },
        },
      },
    } as any,
  });
}

const HEAD = "'Open Sans', sans-serif";
type Txt = { t: string; x: number; y: number; s: number; r?: boolean };
const texts: Txt[] = [
  { t: "Females", x: 246, y: 12, s: 18.5 },
  { t: "Males", x: 591, y: 12, s: 19 },
  { t: "A", x: 95.5, y: 32, s: 20 },
  { t: "B", x: 441.5, y: 30.5, s: 20 },
  { t: "C", x: 96.5, y: 315.5, s: 20 },
  { t: "D", x: 442, y: 315.5, s: 20 },
  { t: "E", x: 96, y: 599, s: 20 },
  { t: "F", x: 440.5, y: 592.5, s: 20 },
  { t: "G", x: 95.5, y: 861, s: 20 },
  { t: "H", x: 443, y: 861.5, s: 20 },
  { t: "Non-supplemented", x: 69, y: 149, s: 15.8, r: true },
  { t: "Supplemented", x: 69, y: 430, s: 15.8, r: true },
  { t: "Non-supplemented", x: 69, y: 704, s: 15.8, r: true },
  { t: "Supplemented", x: 69, y: 971.5, s: 15.8, r: true },
  { t: "PC", x: 48, y: 288, s: 17, r: true },
  { t: "TAC", x: 48, y: 835, s: 17, r: true },
  { t: "Carbohydrate intake (mg per day)/mg of cricket", x: 15, y: 575, s: 20.6, r: true },
  { t: "Protein intake (mg per day)/mg of cricket", x: 415, y: 1139, s: 21.3 },
];

function PanelView({ p }: { p: Panel }) {
  const plotRef = useRef<HTMLCanvasElement>(null);
  const barRef = useRef<HTMLCanvasElement>(null);
  useEffect(() => {
    const c1 = buildPanel(plotRef.current!, p);
    const c2 = buildBar(barRef.current!, p);
    return () => { c1.destroy(); c2.destroy(); };
  }, [p]);
  const [l, t, r, b] = p.frame;
  const [bl, bt, br, bb] = p.bar;
  return (
    <>
      <canvas
        ref={plotRef}
        width={r - l + LEFT + RIGHTGAP}
        height={b - t + TOPGAP + BELOW}
        style={{ position: "absolute", left: l - LEFT, top: t - TOPGAP, width: r - l + LEFT + RIGHTGAP, height: b - t + TOPGAP + BELOW }}
      />
      <canvas
        ref={barRef}
        width={br - bl + 26}
        height={bb - bt + 12}
        style={{ position: "absolute", left: bl, top: bt - 6, width: br - bl + 26, height: bb - bt + 12 }}
      />
    </>
  );
}

export default function App() {
  return (
    <div style={{ position: "absolute", left: 0, top: 0, width: 767, height: 1154, background: "#fff", overflow: "hidden" }}>
      {panels.map((p, i) => (
        <PanelView key={i} p={p} />
      ))}
      {texts.map((x, i) => (
        <div
          key={i}
          style={{
            position: "absolute",
            left: x.x,
            top: x.y,
            transform: `translate(-50%, -50%)${x.r ? " rotate(-90deg)" : ""}`,
            whiteSpace: "nowrap",
            fontFamily: HEAD,
            fontWeight: 700,
            fontSize: x.s,
            lineHeight: 1,
            color: "#0a0a0a",
          }}
        >
          {x.t}
        </div>
      ))}
    </div>
  );
}
